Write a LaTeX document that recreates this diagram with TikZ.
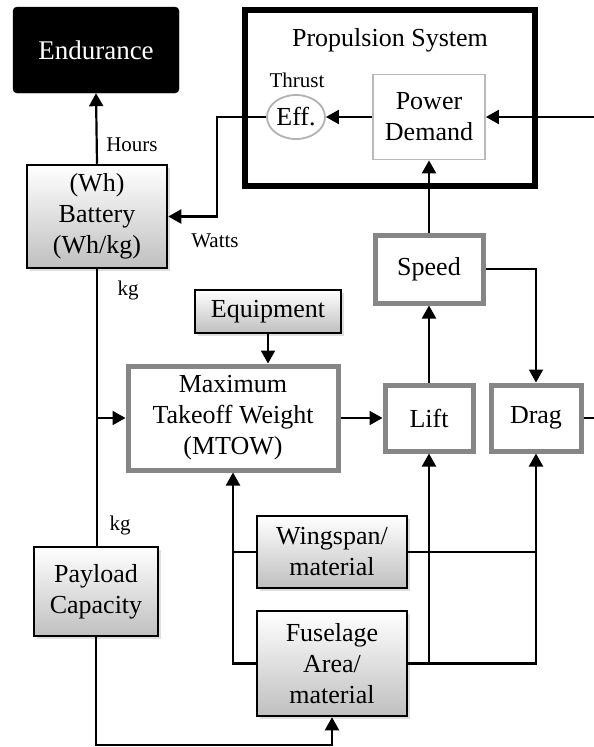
\documentclass[tikz,border=0pt]{standalone}
\usepackage{fontspec}
\setmainfont{Liberation Serif}
\usepackage{tikz}
\usetikzlibrary{positioning,calc,arrows.meta,shapes.geometric,shadows}
\newcommand{\bigtxt}{\fontsize{26}{31}\selectfont}
\newcommand{\lbltxt}{\fontsize{21}{25}\selectfont}

\begin{document}
\begin{tikzpicture}[
    x=1pt, y=-1pt,
    >={Triangle[length=13pt,width=14pt]},
    box/.style={draw, align=center, font=\bigtxt, inner sep=2pt},
    gradbox/.style={box, line width=2.5pt, top color=white, bottom color=gray!50,
                    drop shadow={opacity=0.25, shadow xshift=2.5pt, shadow yshift=-2.5pt}},
    graybox/.style={box, draw=gray!95, line width=5pt, fill=white},
    lbl/.style={font=\lbltxt},
    arr/.style={->, line width=2.2pt},
    line/.style={line width=2.2pt},
  ]
    \useasboundingbox (0,0) rectangle (594,747);
    % top row
    \node[box, fill=black, text=white, rounded corners=4pt, font=\fontsize{27}{31}\selectfont,
          minimum width=166, minimum height=86] (endur) at (96,50) {Endurance};
    \node[draw, line width=5.5pt, minimum width=290, minimum height=176] (prop) at (390,98) {};
    \node[font=\bigtxt] (proptitle) at (390,40) {Propulsion System};
    \node[lbl] (thrust) at (297,80) {Thrust};
    \node[ellipse, draw=gray!60, line width=1.8pt, font=\bigtxt, inner sep=0pt,
          minimum width=58, minimum height=44] (eff) at (296,117) {Eff.};
    \node[box, draw=gray!55, line width=1.8pt, minimum width=112, minimum height=85] (pd) at (429,117) {Power\\Demand};
    \node[gradbox, minimum width=140, minimum height=103] (batt) at (97,216.5) {(Wh)\\Battery\\(Wh/kg)};
    \node[graybox, minimum width=108, minimum height=68] (speed) at (429,269) {Speed};
    % middle row
    \node[gradbox, minimum width=146, minimum height=43] (equip) at (268,311.5) {Equipment};
    \node[graybox, minimum width=210, minimum height=104] (mtow) at (233,418) {Maximum\\Takeoff Weight\\(MTOW)};
    \node[graybox, minimum width=88, minimum height=66] (lift) at (429,418) {Lift};
    \node[graybox, minimum width=90, minimum height=66] (drag) at (536,418) {Drag};
    % bottom row
    \node[gradbox, minimum width=150, minimum height=72] (wing) at (332,552) {Wingspan/\\material};
    \node[gradbox, minimum width=150, minimum height=105] (fuse) at (332,663.5) {Fuselage\\Area/\\material};
    \node[gradbox, minimum width=124, minimum height=89] (pay) at (96,591.5) {Payload\\Capacity};
    % labels
    \node[lbl] (hours) at (132,145) {Hours};
    \node[lbl] (watts) at (215,241) {Watts};
    \node[lbl] (kgtop) at (128,290) {kg};
    \node[lbl] (kgbot) at (120,525) {kg};
    \coordinate (rin) at (594,117);
    \coordinate (rout) at (594,418);
    % connectors
    \draw[arr] (batt.north) -- (endur.south);
    \draw[arr] (rin) -- (pd.east);
    \draw[arr] (pd.west) -- (eff.east);
    \draw[arr] (eff.west) -- ++(-49,0) |- (batt.east);
    \draw[arr] (speed.north) -- (pd.south);
    \draw[arr] (lift.north) -- (speed.south);
    \draw[arr] (speed.east) -| (drag.north);
    \draw[line] (drag.east) -- (rout);
    \draw[arr] (mtow.east) -- (lift.west);
    \draw[arr] (equip.south) -- (equip.south |- mtow.north);
    \draw[line] (batt.south) -- (batt.south |- pay.north);
    \draw[arr] (batt.south |- mtow.west) -- (mtow.west);
    \draw[arr] (pay.south) -- ++(0,108) -| (fuse.south);
    \draw[arr] (fuse.west) -| (mtow.south);
    \draw[line] (wing.west) -- (wing.west -| mtow.south);
    \draw[arr] (fuse.east) -| (drag.south);
    \draw[arr] (fuse.east -| lift.south) -- (lift.south);
    \draw[line] (wing.east) -- (wing.east -| drag.south);
\end{tikzpicture}
\end{document}
